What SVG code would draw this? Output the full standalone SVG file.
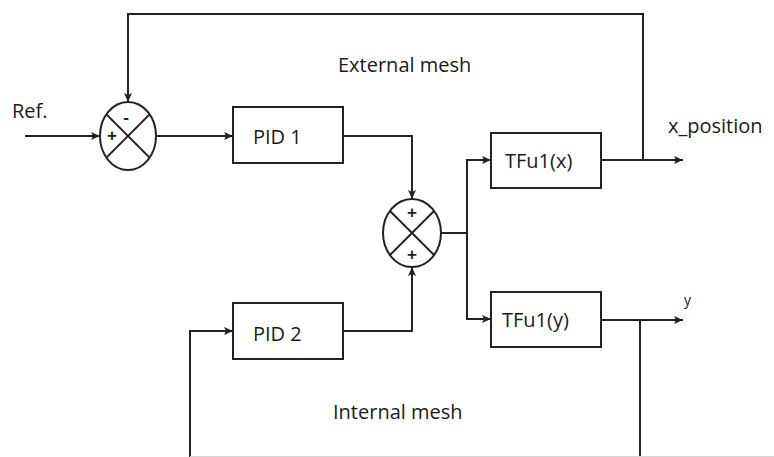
<svg xmlns="http://www.w3.org/2000/svg" width="774" height="457" viewBox="0 0 774 457">
<defs>
<marker id="arr" markerWidth="10" markerHeight="10" refX="9" refY="5" orient="auto" markerUnits="userSpaceOnUse">
<path d="M0,1 L9,5 L0,9 L2,5 Z" fill="#222"/>
</marker>
<style>
.ln{fill:none;stroke:#222;stroke-width:2}
.bx{fill:#fff;stroke:#222;stroke-width:2}
.t{font-family:"Open Sans","Liberation Sans",sans-serif;fill:#1a1a1a}
.lbl{font-size:20px}
.sg{font-size:17px;font-weight:bold;text-anchor:middle;font-family:"Liberation Sans",sans-serif;fill:#222}
</style>
</defs>
<rect width="774" height="457" fill="#fff"/>
<g id="connectors">
<path class="ln" d="M25,136 H100" marker-end="url(#arr)"/>
<path class="ln" d="M156,136 H233" marker-end="url(#arr)"/>
<path class="ln" d="M643,160 V14 H128 V102" marker-end="url(#arr)"/>
<path class="ln" d="M343,136 H412 V199" marker-end="url(#arr)"/>
<path class="ln" d="M343,331 H412 V267" marker-end="url(#arr)"/>
<path class="ln" d="M441,233 H467"/>
<path class="ln" d="M467,233 V160 H491" marker-end="url(#arr)"/>
<path class="ln" d="M467,233 V319 H491" marker-end="url(#arr)"/>
<path class="ln" d="M601,160 H683" marker-end="url(#arr)"/>
<path class="ln" d="M601,320 H683" marker-end="url(#arr)"/>
<path class="ln" d="M640,320 V457"/>
<path class="ln" d="M190,457 V331 H233" marker-end="url(#arr)"/>
<path d="M190,456.5 H774" stroke="#d4d4d4" stroke-width="1"/>
</g>
<g id="sum1">
<ellipse class="bx" cx="128" cy="136" rx="28" ry="34"/>
<path class="ln" d="M106.4,114.4 L149.6,157.6 M149.6,114.4 L106.4,157.6"/>
<text class="sg" x="126" y="123">-</text>
<text class="sg" x="112" y="141">+</text>
</g>
<g id="pid1">
<rect class="bx" x="233" y="107" width="110" height="56"/>
<text class="t lbl" x="253" y="144">PID 1</text>
</g>
<g id="pid2">
<rect class="bx" x="233" y="303" width="110" height="56"/>
<text class="t lbl" x="253" y="341">PID 2</text>
</g>
<g id="sum2">
<ellipse class="bx" cx="412" cy="233" rx="29" ry="34"/>
<path class="ln" d="M390,211 L434,255 M434,211 L390,255"/>
<text class="sg" x="412" y="218">+</text>
<text class="sg" x="412" y="260">+</text>
</g>
<g id="tfx">
<rect class="bx" x="491" y="133" width="110" height="55"/>
<text class="t lbl" x="505" y="168">TFu1(x)</text>
</g>
<g id="tfy">
<rect class="bx" x="491" y="292" width="110" height="55"/>
<text class="t lbl" x="502" y="327">TFu1(y)</text>
</g>
<g id="labels">
<text class="t lbl" x="12" y="118">Ref.</text>
<text class="t lbl" x="338" y="72">External mesh</text>
<text class="t lbl" x="333" y="419">Internal mesh</text>
<text class="t lbl" x="668" y="133">x_position</text>
<text class="t" x="684" y="305" font-size="14">y</text>
</g>
</svg>
